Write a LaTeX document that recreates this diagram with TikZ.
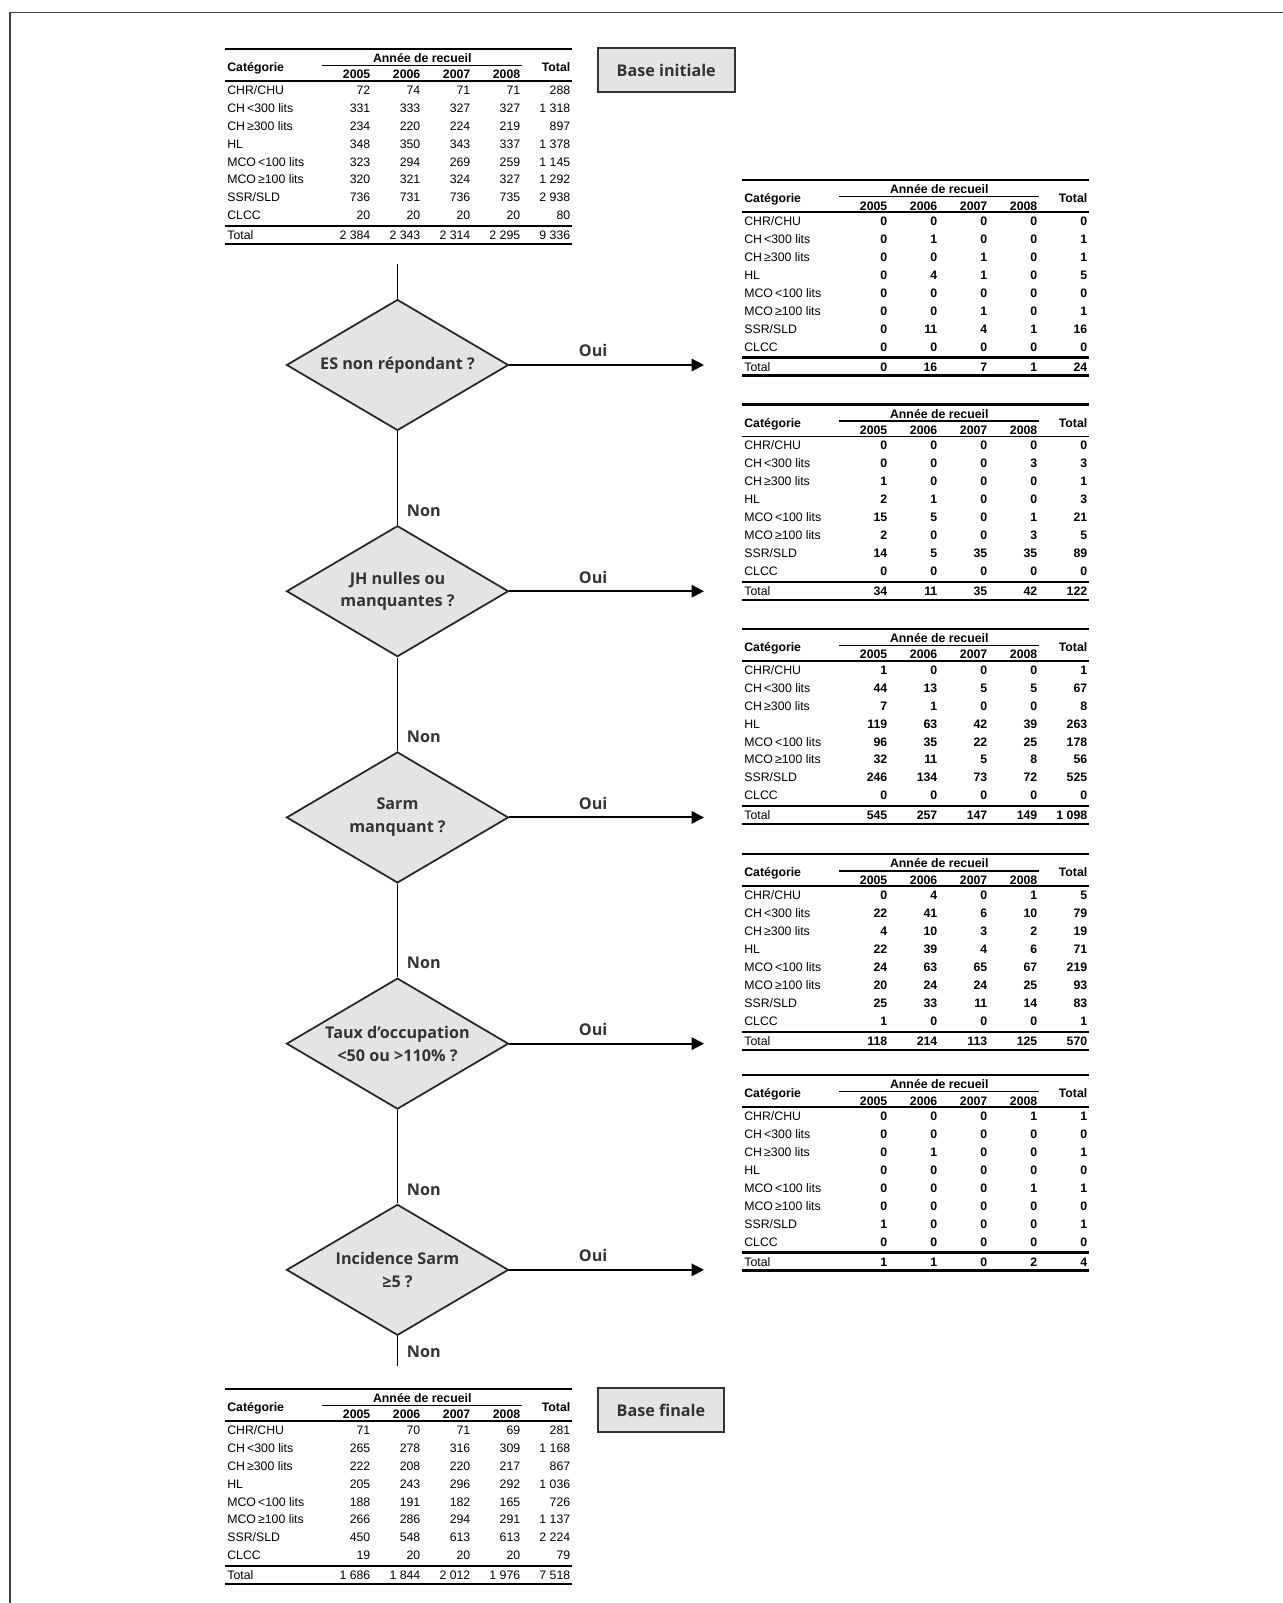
\documentclass[tikz,border=0pt]{standalone}
\usepackage{fontspec}
\usepackage{array}
\usepackage{booktabs}
\usepackage{multirow}
\usetikzlibrary{shapes.geometric, arrows.meta, positioning}

\newfontfamily\tabfont{Liberation Sans}
\newfontfamily\flowfont{Open Sans}
\definecolor{gristexte}{HTML}{333333}
\definecolor{grisfond}{HTML}{E4E4E4}

% tableau de recueil : police des nombres, lignes, total
\newcommand{\recueil}[3]{{%
  \fontsize{7}{10.2}\selectfont
  \setlength{\tabcolsep}{0.04cm}%
  \setlength{\aboverulesep}{0pt}\setlength{\belowrulesep}{0pt}%
  \begin{tabular}{p{1.86cm}*{5}{>{\raggedleft\arraybackslash#1}p{0.92cm}}}
    \toprule[1.4pt]
    \multirow{2}{*}{\textbf{Catégorie}} & \multicolumn{4}{c}{\textbf{Année de recueil}}
      & \multirow{2}{=}{\raggedleft\textbf{Total}}\\[-2pt]
    \cmidrule[1pt]{2-5}
    & \textbf{2005} & \textbf{2006} & \textbf{2007} & \textbf{2008} & \\[-2.35pt]
    \midrule[1pt]
    #2
    \midrule[1.2pt]
    Total & #3 \\[-1.15pt]
    \bottomrule[1.2pt]
  \end{tabular}}}

\begin{document}
\begin{tikzpicture}[x=0.02cm, y=-0.02cm,
  tableau/.style={inner sep=0pt, anchor=north west, font=\tabfont},
  base/.style={rectangle, draw=gristexte, line width=1.2pt, fill=grisfond,
               minimum height=0.88cm, inner xsep=0.38cm,
               font=\flowfont\fontsize{9.2}{11}\selectfont\bfseries, text=gristexte},
  test/.style={diamond, draw=black!85, line width=1pt, fill=grisfond, aspect=1.7,
               minimum width=4.44cm, minimum height=2.62cm, inner sep=0pt, align=center,
               font=\flowfont\fontsize{9.2}{13}\selectfont\bfseries, text=gristexte},
  lien/.style={line width=1.1pt},
  fleche/.style={-{Triangle[length=7pt, width=7pt]}, line width=1.1pt, shorten >=0.76cm},
  rep/.style={inner sep=0pt, font=\flowfont\fontsize{9.2}{11}\selectfont\bfseries, text=gristexte}
]
  \useasboundingbox (0,0) rectangle (1283,1603);
  \draw[line width=0.8pt, black!75] (10,1603) -- (10,12.7) -- (1283,12.7);

  % base initiale
  \node[tableau] (t0) at (225,47.3) {\recueil{}{%
    CHR/CHU & 72 & 74 & 71 & 71 & 288\\
    CH\,<300 lits & 331 & 333 & 327 & 327 & 1~318\\
    CH\,≥300 lits & 234 & 220 & 224 & 219 & 897\\
    HL & 348 & 350 & 343 & 337 & 1~378\\
    MCO\,<100 lits & 323 & 294 & 269 & 259 & 1~145\\
    MCO\,≥100 lits & 320 & 321 & 324 & 327 & 1~292\\
    SSR/SLD & 736 & 731 & 736 & 735 & 2~938\\
    CLCC & 20 & 20 & 20 & 20 & 80\\
  }{2~384 & 2~343 & 2~314 & 2~295 & 9~336}};
  \node[base, right=0.48cm of t0.north east, anchor=north west] (bi) {Base initiale};

  % tests
  \node[test] (d1) at (397.5,365) {ES non répondant ?};
  \node[test, below=1.87cm of d1] (d2) {JH nulles ou\\manquantes ?};
  \node[test, below=1.87cm of d2] (d3) {Sarm\\manquant ?};
  \node[test, below=1.87cm of d3] (d4) {Taux d’occupation\\<50 ou >110\% ?};
  \node[test, below=1.87cm of d4] (d5) {Incidence Sarm\\≥5 ?};

  % etablissements exclus
  \node[tableau] (r1) at (742,178.5) {\recueil{\bfseries}{%
    CHR/CHU & 0 & 0 & 0 & 0 & 0\\
    CH\,<300 lits & 0 & 1 & 0 & 0 & 1\\
    CH\,≥300 lits & 0 & 0 & 1 & 0 & 1\\
    HL & 0 & 4 & 1 & 0 & 5\\
    MCO\,<100 lits & 0 & 0 & 0 & 0 & 0\\
    MCO\,≥100 lits & 0 & 0 & 1 & 0 & 1\\
    SSR/SLD & 0 & 11 & 4 & 1 & 16\\
    CLCC & 0 & 0 & 0 & 0 & 0\\
  }{0 & 16 & 7 & 1 & 24}};
  \node[tableau] (r2) at (742,402.8) {\recueil{\bfseries}{%
    CHR/CHU & 0 & 0 & 0 & 0 & 0\\
    CH\,<300 lits & 0 & 0 & 0 & 3 & 3\\
    CH\,≥300 lits & 1 & 0 & 0 & 0 & 1\\
    HL & 2 & 1 & 0 & 0 & 3\\
    MCO\,<100 lits & 15 & 5 & 0 & 1 & 21\\
    MCO\,≥100 lits & 2 & 0 & 0 & 3 & 5\\
    SSR/SLD & 14 & 5 & 35 & 35 & 89\\
    CLCC & 0 & 0 & 0 & 0 & 0\\
  }{34 & 11 & 35 & 42 & 122}};
  \node[tableau] (r3) at (742,627.3) {\recueil{\bfseries}{%
    CHR/CHU & 1 & 0 & 0 & 0 & 1\\
    CH\,<300 lits & 44 & 13 & 5 & 5 & 67\\
    CH\,≥300 lits & 7 & 1 & 0 & 0 & 8\\
    HL & 119 & 63 & 42 & 39 & 263\\
    MCO\,<100 lits & 96 & 35 & 22 & 25 & 178\\
    MCO\,≥100 lits & 32 & 11 & 5 & 8 & 56\\
    SSR/SLD & 246 & 134 & 73 & 72 & 525\\
    CLCC & 0 & 0 & 0 & 0 & 0\\
  }{545 & 257 & 147 & 149 & 1~098}};
  \node[tableau] (r4) at (742,852.6) {\recueil{\bfseries}{%
    CHR/CHU & 0 & 4 & 0 & 1 & 5\\
    CH\,<300 lits & 22 & 41 & 6 & 10 & 79\\
    CH\,≥300 lits & 4 & 10 & 3 & 2 & 19\\
    HL & 22 & 39 & 4 & 6 & 71\\
    MCO\,<100 lits & 24 & 63 & 65 & 67 & 219\\
    MCO\,≥100 lits & 20 & 24 & 24 & 25 & 93\\
    SSR/SLD & 25 & 33 & 11 & 14 & 83\\
    CLCC & 1 & 0 & 0 & 0 & 1\\
  }{118 & 214 & 113 & 125 & 570}};
  \node[tableau] (r5) at (742,1073.5) {\recueil{\bfseries}{%
    CHR/CHU & 0 & 0 & 0 & 1 & 1\\
    CH\,<300 lits & 0 & 0 & 0 & 0 & 0\\
    CH\,≥300 lits & 0 & 1 & 0 & 0 & 1\\
    HL & 0 & 0 & 0 & 0 & 0\\
    MCO\,<100 lits & 0 & 0 & 0 & 1 & 1\\
    MCO\,≥100 lits & 0 & 0 & 0 & 0 & 0\\
    SSR/SLD & 1 & 0 & 0 & 0 & 1\\
    CLCC & 0 & 0 & 0 & 0 & 0\\
  }{1 & 1 & 0 & 2 & 4}};

  % base finale
  \node[tableau] (t6) at (225,1387.3) {\recueil{}{%
    CHR/CHU & 71 & 70 & 71 & 69 & 281\\
    CH\,<300 lits & 265 & 278 & 316 & 309 & 1~168\\
    CH\,≥300 lits & 222 & 208 & 220 & 217 & 867\\
    HL & 205 & 243 & 296 & 292 & 1~036\\
    MCO\,<100 lits & 188 & 191 & 182 & 165 & 726\\
    MCO\,≥100 lits & 266 & 286 & 294 & 291 & 1~137\\
    SSR/SLD & 450 & 548 & 613 & 613 & 2~224\\
    CLCC & 19 & 20 & 20 & 20 & 79\\
  }{1~686 & 1~844 & 2~012 & 1~976 & 7~518}};
  \node[base, right=0.48cm of t6.north east, anchor=north west] (bf) {Base finale};

  % liens
  \coordinate (depart) at (397.5,264);
  \coordinate (fin) at (397.5,1366);
  \draw[lien] (depart) -- (d1);
  \foreach \a/\b in {d1/d2, d2/d3, d3/d4, d4/d5, d5/fin}
    \draw[lien] (\a) -- (\b) node[rep, pos=1, anchor=base west, xshift=4.8pt, yshift=4.8pt] {Non};
  \foreach \i in {1,...,5}
    \draw[fleche] (d\i.east) -- (d\i.east -| r\i.west) node[rep, pos=0.36, above=4pt] {Oui};
\end{tikzpicture}
\end{document}
